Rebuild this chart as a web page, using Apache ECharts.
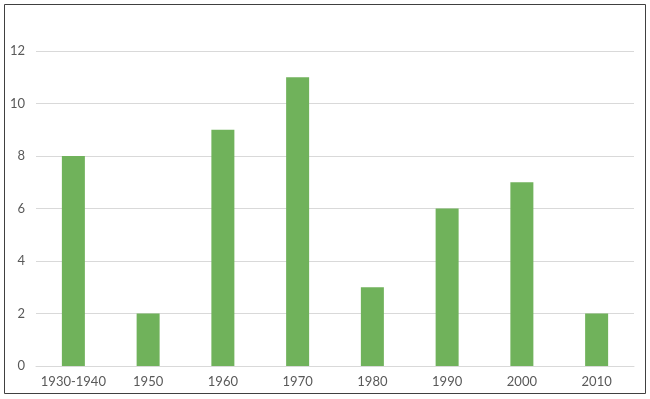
<!DOCTYPE html>
<html>
<head>
<meta charset="utf-8">
<script src="https://cdn.jsdelivr.net/npm/echarts@6/dist/echarts.min.js"></script>
<style>
  html, body { margin: 0; padding: 0; background: #fff; }
  #chart { width: 650px; height: 399px; }
</style>
</head>
<body>
<div id="chart"></div>
<script>
  // decades and counts
  var decades = ["1930-1940", "1950", "1960", "1970", "1980", "1990", "2000", "2010"];
  var counts = [8, 2, 9, 11, 3, 6, 7, 2];

  var chart = echarts.init(document.getElementById("chart"));
  var labelFont = { color: "#595959", fontSize: 13, fontFamily: "Lato, 'DejaVu Sans', sans-serif" };

  chart.setOption({
    animation: false,
    graphic: [{
      type: "rect",
      shape: { x: 4.5, y: 4.5, width: 641, height: 389 },
      style: { fill: "none", stroke: "#404040", lineWidth: 1 },
      silent: true
    }],
    grid: { left: 36, right: 16, top: 51, bottom: 33 },
    xAxis: {
      type: "category",
      data: decades,
      axisLine: { show: true, lineStyle: { color: "#d9d9d9", width: 1 } },
      axisTick: { show: false },
      axisLabel: Object.assign({ margin: 9, interval: 0 }, labelFont)
    },
    yAxis: {
      type: "value",
      min: 0,
      max: 12,
      interval: 2,
      axisLine: { show: false },
      axisTick: { show: false },
      splitLine: { lineStyle: { color: "#d9d9d9", width: 1 } },
      axisLabel: Object.assign({ margin: 11 }, labelFont)
    },
    series: [{
      type: "bar",
      data: counts,
      barWidth: 23,
      itemStyle: { color: "#70b25b" }
    }]
  });
</script>
</body>
</html>
